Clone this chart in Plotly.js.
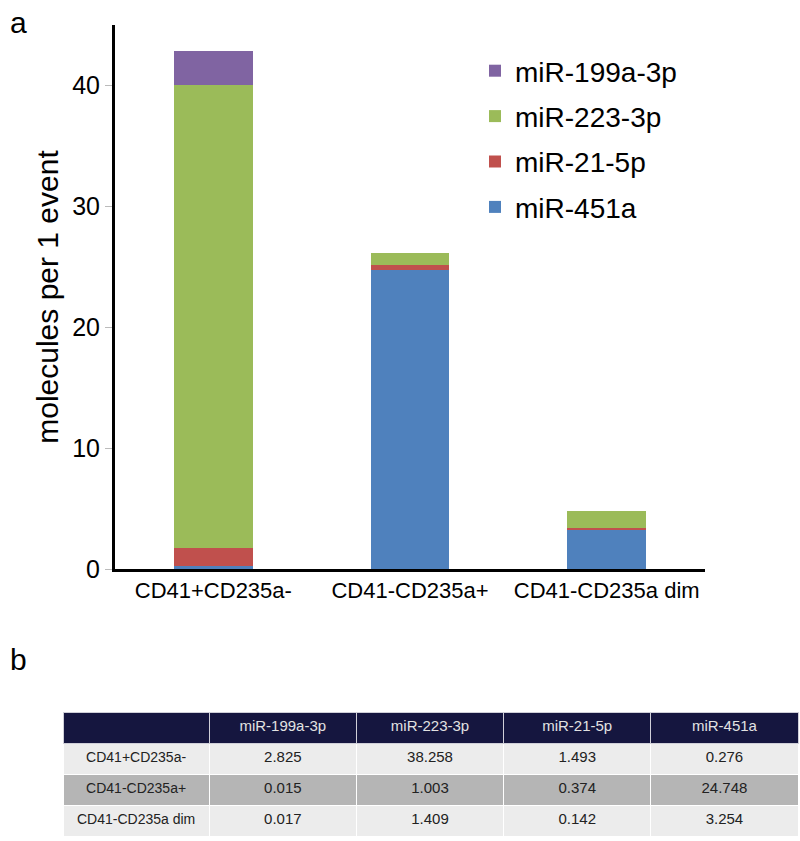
<!DOCTYPE html>
<html>
<head>
<meta charset="utf-8">
<script src="https://cdn.plot.ly/plotly-3.0.1.min.js"></script>
<style>html,body{margin:0;padding:0;background:#fff;}#chart{width:800px;height:841px;}</style>
</head>
<body>
<div id="chart"></div>
<script>
// ---- data ----
var categories = ["CD41+CD235a-", "CD41-CD235a+", "CD41-CD235a dim"];
var seriesNames = ["miR-199a-3p", "miR-223-3p", "miR-21-5p", "miR-451a"];
var mir199a3p = [2.825, 0.015, 0.017];
var mir2233p  = [38.258, 1.003, 1.409];
var mir215p   = [1.493, 0.374, 0.142];
var mir451a   = [0.276, 24.748, 3.254];
var yTicks = [0, 10, 20, 30, 40];

// ---- styling ----
var FONT = "Liberation Sans, Arial, Helvetica, sans-serif";
var colors = {
  "miR-451a": "#4F81BD",
  "miR-21-5p": "#C0504D",
  "miR-223-3p": "#9BBB59",
  "miR-199a-3p": "#8064A2"
};
var W = 800, H = 841;
function px(x){ return x / W; }
function py(y){ return 1 - y / H; }

function barTrace(name, vals, rank){
  return {
    type: "bar", name: name, x: categories, y: vals,
    marker: {color: colors[name]},
    legendgroup: name,
    legendrank: rank,
    hoverinfo: "name+y"
  };
}
var traces = [
  barTrace("miR-451a", mir451a, 4),
  barTrace("miR-21-5p", mir215p, 3),
  barTrace("miR-223-3p", mir2233p, 2),
  barTrace("miR-199a-3p", mir199a3p, 1)
];

var fmt = function(v){ return v.toFixed(3); };
var rowFills = ["#ECECEC", "#B5B5B5", "#ECECEC"];
traces.push({
  type: "table",
  domain: {x: [px(63), px(798)], y: [0, py(712)]},
  columnwidth: [146, 147, 147, 147, 147],
  header: {
    values: [""].concat(seriesNames),
    fill: {color: "#15163F"},
    line: {color: "#CFCFD8", width: 1},
    font: {family: FONT, size: 15, color: "#E2E2E2"},
    align: "center",
    height: 31
  },
  cells: {
    values: [categories, mir199a3p.map(fmt), mir2233p.map(fmt), mir215p.map(fmt), mir451a.map(fmt)],
    fill: {color: [rowFills, rowFills, rowFills, rowFills, rowFills]},
    line: {color: "#FFFFFF", width: 1},
    font: {family: FONT, size: [14, 15, 15, 15, 15], color: "#222222"},
    align: "center",
    height: 31
  }
});

var layout = {
  width: W, height: H,
  margin: {l: 0, r: 0, t: 0, b: 0},
  paper_bgcolor: "#FFFFFF", plot_bgcolor: "#FFFFFF",
  font: {family: FONT, color: "#000"},
  barmode: "stack",
  bargap: 0.6,
  showlegend: true,
  legend: {
    x: px(475), y: py(46), xanchor: "left", yanchor: "top",
    traceorder: "grouped", tracegroupgap: 6,
    font: {family: FONT, size: 28, color: "#000"},
    bgcolor: "rgba(0,0,0,0)"
  },
  xaxis: {
    domain: [px(115), px(705)],
    automargin: false,
    showline: true, linecolor: "#000", linewidth: 3,
    ticks: "", showgrid: false, zeroline: false,
    tickfont: {family: FONT, size: 22, color: "#000"},
    fixedrange: true
  },
  yaxis: {
    domain: [py(569), py(25)],
    automargin: false,
    range: [0, 45],
    tickvals: yTicks,
    ticktext: yTicks.map(String),
    showline: true, linecolor: "#000", linewidth: 3,
    ticks: "outside", ticklen: 7, tickcolor: "#BBBBBB", tickwidth: 1,
    showgrid: false, zeroline: false,
    tickfont: {family: FONT, size: 25, color: "#000"},
    title: {text: "molecules per 1 event", font: {family: FONT, size: 30, color: "#000"}, standoff: 5},
    fixedrange: true
  },
  annotations: [
    {text: "a", xref: "paper", yref: "paper", x: px(8), y: py(4), xanchor: "left", yanchor: "top", showarrow: false, font: {family: FONT, size: 30, color: "#000"}},
    {text: "b", xref: "paper", yref: "paper", x: px(8), y: py(641), xanchor: "left", yanchor: "top", showarrow: false, font: {family: FONT, size: 30, color: "#000"}}
  ]
};

Plotly.newPlot("chart", traces, layout, {displayModeBar: false, staticPlot: true});
</script>
</body>
</html>
